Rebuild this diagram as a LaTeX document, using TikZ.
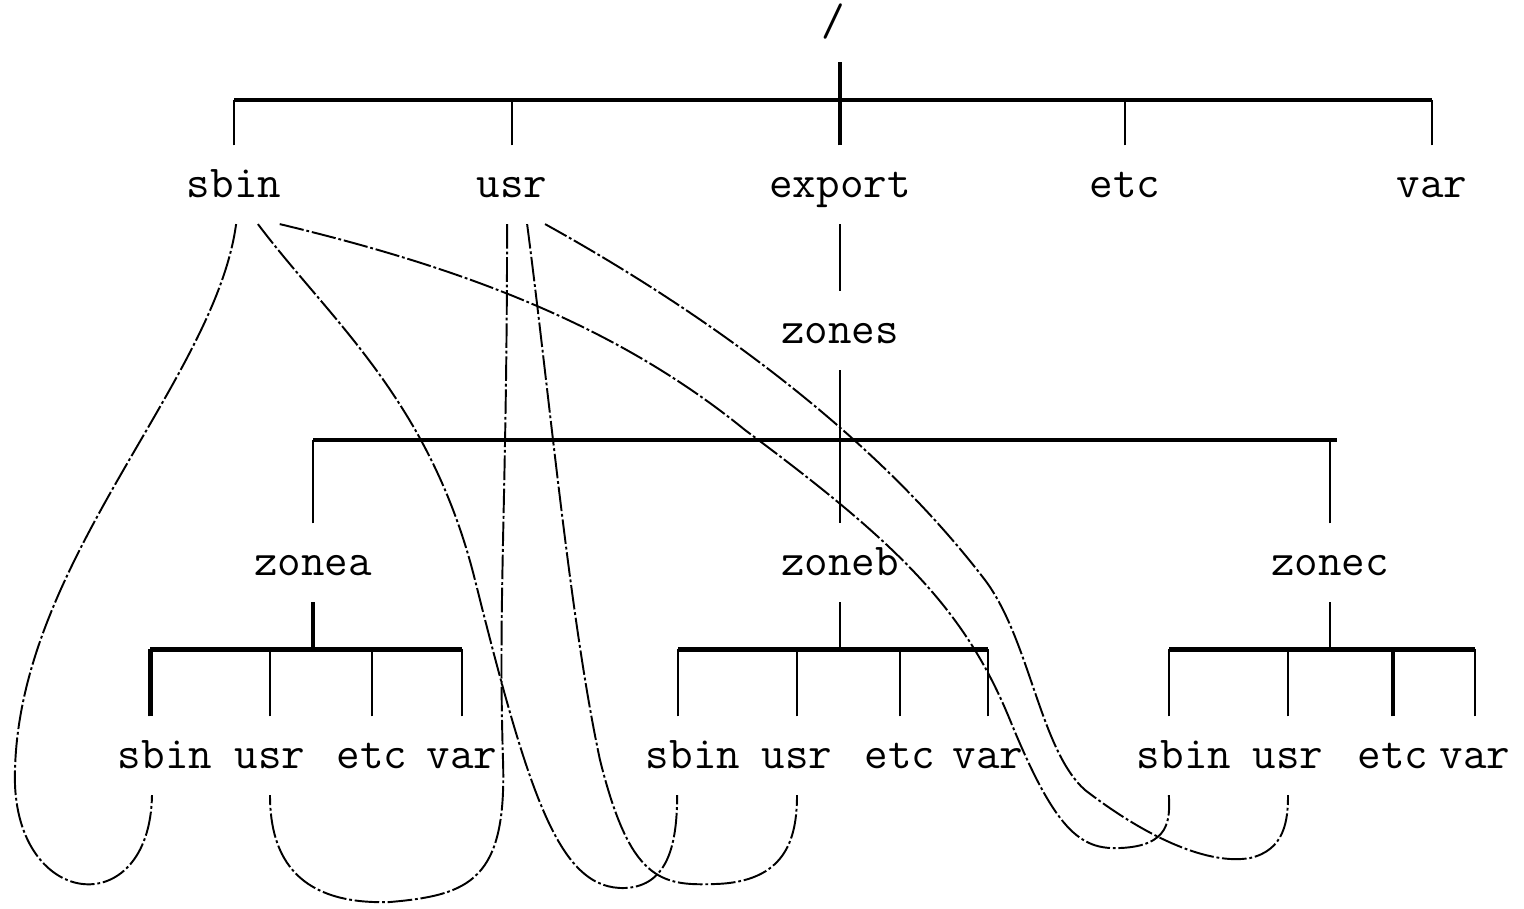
\documentclass[tikz,border=0pt]{standalone}
\usepackage{fontspec}
\usepackage{tikz}
\usetikzlibrary{calc,positioning}

\begin{document}
\begin{tikzpicture}[x=0.01cm,y=-0.01cm]
    \tikzstyle{dir}=[font=\fontsize{13}{15}\selectfont\ttfamily, anchor=base,
                     text height=10pt, text depth=3pt, inner xsep=1pt, inner ysep=4.5pt]
    \tikzstyle{branch}=[line width=0.6pt]
    \tikzstyle{bar}=[line width=0.9pt]
    \tikzstyle{trunk}=[line width=1.4pt]
    \tikzstyle{mount}=[line width=0.55pt, dash pattern=on 7pt off 0.8pt on 0.8pt off 0.8pt]

    \useasboundingbox (0,0) rectangle (1524,908);

    % top level
    \node[dir] (root)   at (833,35)  {/};
    \node[dir] (sbin)   at (234,197) {sbin};
    \node[dir] (usr)    at (512,197) {usr};
    \node[dir] (export) at (840,197) {export};
    \node[dir] (etc)    at (1125,197) {etc};
    \node[dir] (var)    at (1432,197) {var};

    \node[dir] (zones)  at (840,343) {zones};
    \node[dir] (zonea)  at (313,575) {zonea};
    \node[dir] (zoneb)  at (840,575) {zoneb};
    \node[dir] (zonec)  at (1330,575) {zonec};

    % zone contents
    \node[dir] (sbina) at (165,768) {sbin};
    \node[dir] (usra)  at (270,768) {usr};
    \node[dir] (etca)  at (372,768) {etc};
    \node[dir] (vara)  at (462,768) {var};
    \node[dir] (sbinb) at (693,768) {sbin};
    \node[dir] (usrb)  at (797,768) {usr};
    \node[dir] (etcb)  at (900,768) {etc};
    \node[dir] (varb)  at (988,768) {var};
    \node[dir] (sbinc) at (1184,768) {sbin};
    \node[dir] (usrc)  at (1288,768) {usr};
    \node[dir] (etcc)  at (1393,768) {etc};
    \node[dir] (varc)  at (1475,768) {var};

    % tree lines
    \coordinate (topbar) at (838,100);
    \draw[bar] (sbin.north |- topbar) -- (var.north |- topbar);
    \foreach \n in {sbin,usr,etc,var}
      \draw[branch] (\n.north) -- (\n.north |- topbar);
    \draw[trunk] (export.north) -- (export.north |- root.south);
    \draw[branch] (export.south) -- (zones.north);

    \coordinate (zbar) at (838,440);
    \draw[trunk] (zonea.north |- zbar) -- ([xshift=2pt]zonec.north |- zbar);
    \draw[branch] (zonea.north) -- (zonea.north |- zbar);
    \draw[branch] (zonec.north) -- (zonec.north |- zbar);
    \draw[branch] (zones.south) -- (zoneb.north);

    \foreach \z in {a,b,c} {
      \path (zone\z.south) ++(0,47) coordinate (bar\z);
      \path ([xshift=-4.2pt]sbin\z.north) coordinate (top\z);
      \draw[trunk] (top\z |- bar\z) -- (var\z.north |- bar\z);
      \draw[branch] (zone\z.south) -- (bar\z);
      \draw[branch] (top\z) -- (top\z |- bar\z);
      \foreach \n in {usr,etc,var}
        \draw[branch] (\n\z.north) -- (\n\z.north |- bar\z);
    }
    \draw[trunk] (zonea.south) -- (bara);
    \draw[trunk] (topa) -- (topa |- bara);
    \draw[trunk] (etcc.north) -- (etcc.north |- barc);

    % loopback mounts
    \draw[mount] ([xshift=0.6pt]sbin.south) .. controls (215,380) and (20,560) .. (15,770)
                 .. controls (10,910) and (150,925) .. ([xshift=-3.7pt]sbina.south);
    \draw[mount] ([xshift=6.8pt]sbin.south) .. controls (330,320) and (430,400) .. (475,580)
                 .. controls (530,800) and (560,890) .. (625,888)
                 .. controls (670,886) and (677,840) .. ([xshift=-4.5pt]sbinb.south);
    \draw[mount] ([xshift=13pt]sbin.south) .. controls (450,265) and (610,320) .. (745,430)
                 .. controls (900,545) and (965,610) .. (1010,720)
                 .. controls (1055,830) and (1080,850) .. (1120,848)
                 .. controls (1170,846) and (1170,820) .. ([xshift=-4.3pt]sbinc.south);
    \draw[mount] ([xshift=-1.4pt]usr.south) .. controls (507,500) and (498,600) .. (503,760)
                 .. controls (507,880) and (470,895) .. (390,902)
                 .. controls (300,905) and (270,860) .. (usra.south);
    \draw[mount] ([xshift=4.3pt]usr.south) .. controls (550,400) and (570,620) .. (600,760)
                 .. controls (630,880) and (660,886) .. (715,884)
                 .. controls (785,882) and (797,840) .. (usrb.south);
    \draw[mount] ([xshift=9.4pt]usr.south) .. controls (700,310) and (870,430) .. (985,580)
                 .. controls (1030,640) and (1040,750) .. (1085,790)
                 .. controls (1150,840) and (1210,865) .. (1250,858)
                 .. controls (1285,850) and (1288,820) .. (usrc.south);
\end{tikzpicture}
\end{document}
